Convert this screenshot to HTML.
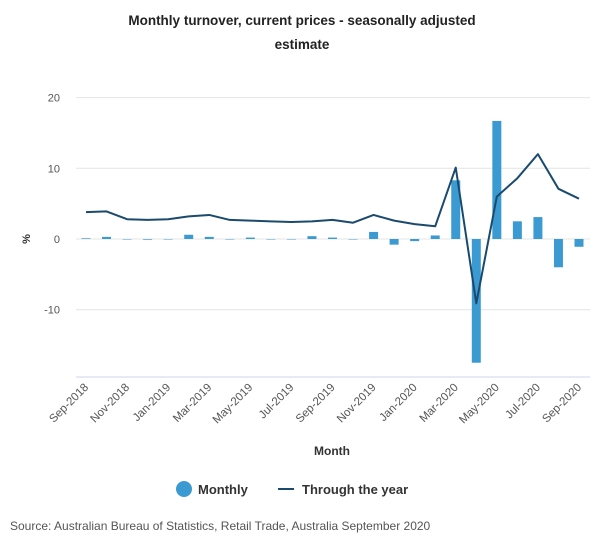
<!DOCTYPE html>
<html><head><meta charset="utf-8"><style>
body{margin:0;background:#fff;font-family:"Liberation Sans",sans-serif;}
svg text{font-family:"Liberation Sans",sans-serif;}
</style></head><body>
<svg id="chart" width="600" height="550">
<text x="302" y="25" text-anchor="middle" font-size="13.5" font-weight="bold" fill="#222">Monthly turnover, current prices - seasonally adjusted</text>
<text x="302" y="49" text-anchor="middle" font-size="13.5" font-weight="bold" fill="#222">estimate</text>
<g id="grid"></g><g id="bars"></g><g id="line"></g><g id="xaxis"></g>
<text x="30" y="239" text-anchor="middle" font-size="11" font-weight="bold" fill="#333" transform="rotate(-90 30 239)">%</text>
<text x="332" y="455" text-anchor="middle" font-size="12" font-weight="bold" fill="#333">Month</text>
<g><circle cx="184" cy="489" r="8" fill="#3b9ad2"/><text x="198" y="494" font-size="13" font-weight="bold" fill="#333">Monthly</text></g>
<g><line x1="278" y1="489" x2="294" y2="489" stroke="#1a4a6e" stroke-width="2"/><text x="302" y="494" font-size="13" font-weight="bold" fill="#333">Through the year</text></g>
<text x="10" y="530" font-size="12" fill="#555">Source: Australian Bureau of Statistics, Retail Trade, Australia September 2020</text>
</svg>
<script>
const categories=["Sep-2018","Oct-2018","Nov-2018","Dec-2018","Jan-2019","Feb-2019","Mar-2019","Apr-2019","May-2019","Jun-2019","Jul-2019","Aug-2019","Sep-2019","Oct-2019","Nov-2019","Dec-2019","Jan-2020","Feb-2020","Mar-2020","Apr-2020","May-2020","Jun-2020","Jul-2020","Aug-2020","Sep-2020"];
const monthly=[0.1,0.3,0,-0.1,0,0.6,0.3,0,0.2,0,0,0.4,0.2,0,1.0,-0.8,-0.3,0.5,8.3,-17.5,16.7,2.5,3.1,-4.0,-1.1];
const throughYear=[3.8,3.9,2.8,2.7,2.8,3.2,3.4,2.7,2.6,2.5,2.4,2.5,2.7,2.3,3.4,2.6,2.1,1.8,10.1,-9.1,6.0,8.6,12.0,7.1,5.7];
const yTicks=[20,10,0,-10];
const NS="http://www.w3.org/2000/svg";
const x=i=>86+i*(579-86)/24;
const y=v=>239-v*7.07;
function mk(t,a,p){const e=document.createElementNS(NS,t);for(const k in a)e.setAttribute(k,a[k]);p.appendChild(e);return e;}
const g=document.getElementById('grid');
yTicks.forEach(t=>{
 const l=mk('line',{x1:76,x2:590,y1:y(t),y2:y(t),stroke:'#e4e4e4','stroke-width':1},g);
 
 
 const tx=mk('text',{x:60,y:y(t)+4,'text-anchor':'end','font-size':11,fill:'#555'},g);
 tx.textContent=t;
 
 
});
const b=document.getElementById('bars');
monthly.forEach((v,i)=>{
 const r=mk('rect',{x:x(i)-4.5,width:9,y:Math.min(y(v),y(0)),height:Math.max(Math.abs(y(v)-y(0)),0.5),fill:'#3b9ad2'},b);
 
 
});
const ln=document.getElementById('line');
const p=mk('polyline',{points:throughYear.map((v,i)=>x(i)+','+y(v)).join(' '),fill:'none',stroke:'#1a4a6e','stroke-width':2,'stroke-linejoin':'round'},ln);


const xa=document.getElementById('xaxis');
const al=mk('line',{x1:76,x2:590,y1:377,y2:377,stroke:'#ccd6eb'},xa);


categories.forEach((c,i)=>{
 if(i%2)return;
 const tx=mk('text',{x:x(i)+3,y:388,'text-anchor':'end','font-size':11.5,fill:'#555',transform:`rotate(-45 ${x(i)+3} 388)`},xa);
 tx.textContent=c;
 
 
});
</script>
</body></html>
